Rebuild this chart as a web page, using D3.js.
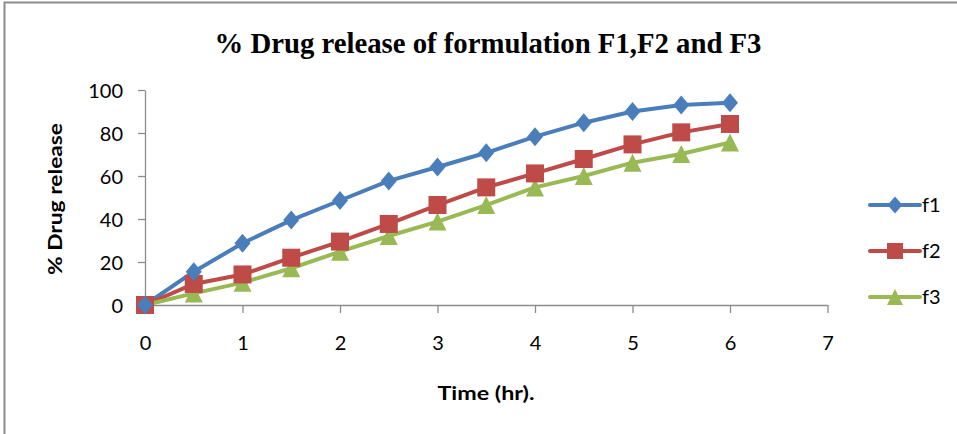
<!DOCTYPE html>
<html><head><meta charset="utf-8">
<script src="https://cdn.jsdelivr.net/npm/d3@7"></script>
<style>body{margin:0;background:#fff}svg{display:block}</style>
</head><body>
<svg id="c" width="957" height="434"></svg>
<script>
const times = [0,0.5,1,1.5,2,2.5,3,3.5,4,4.5,5,5.5,6];
const f1 = [0,15.5,28.7,39.5,48.6,57.7,64.2,70.8,78.3,84.8,90,93,94.1];
const f2 = [0,9.8,14.2,22,29.5,37.7,46.5,54.7,61.2,67.9,74.7,80.3,84.2];
const f3 = [0,5.4,10.4,17.1,24.8,32.1,38.8,46.5,54.7,60,66.2,70.2,75.6];
const seriesNames = ["f1","f2","f3"];
const xTicks = [0,1,2,3,4,5,6,7];
const yTicks = [0,20,40,60,80,100];
const title = "% Drug release of formulation F1,F2 and F3";
const xLabel = "Time (hr).";
const yLabel = "% Drug release";

const colors = ["#4a7ebb","#be4b48","#98b954"];
const markerPath = [
  "M0,-9.5L8,0L0,9.5L-8,0Z",
  "M-9,-9H9V9H-9Z",
  "M0,-9L9,9H-9Z"
];
const legendMarker = [
  "M0,-8.5L7.5,0L0,8.5L-7.5,0Z",
  "M-8,-8H8V8H-8Z",
  "M0,-8L8,8H-8Z"
];
const svg = d3.select("#c");
const sans = "Lato, 'Open Sans', sans-serif";

svg.append("path").attr("d","M4.5,434 V2.5 H957").attr("fill","none").attr("stroke","#8c8c8c").attr("stroke-width",2);

const x = d3.scaleLinear().domain([0,7]).range([145,827.5]);
const y = d3.scaleLinear().domain([0,100]).range([305,90]);

const gx = svg.append("g").attr("transform","translate(0,305)")
  .call(d3.axisBottom(x).tickValues(xTicks).tickSize(8).tickSizeOuter(0).tickFormat(d3.format("d")));
const gy = svg.append("g").attr("transform","translate(145,0)")
  .call(d3.axisLeft(y).tickValues(yTicks).tickSize(7).tickSizeOuter(0).tickFormat(d3.format("d")));
[gx,gy].forEach(g=>{
  g.select(".domain").attr("stroke","#8c8c8c").attr("stroke-width",1.3);
  g.selectAll(".tick line").attr("stroke","#8c8c8c").attr("stroke-width",1.3);
  g.selectAll(".tick text").attr("fill","#000").style("font-family",sans).style("font-size","20px");
});
gx.selectAll(".tick text").attr("y",40).attr("dy",null).attr("dominant-baseline","middle");
gy.selectAll(".tick text").attr("x",-22).attr("dy","0.35em");

const data = [f1,f2,f3];
const line = d3.line().x((d,i)=>x(times[i])).y(d=>y(d));
data.forEach((s,k)=>{
  svg.append("path").datum(s).attr("d",line).attr("fill","none")
    .attr("stroke",colors[k]).attr("stroke-width",4).attr("stroke-linejoin","round");
});
[2,1,0].forEach(k=>{
  svg.append("g").selectAll("path").data(data[k]).join("path")
    .attr("d",markerPath[k])
    .attr("transform",(d,i)=>`translate(${x(times[i])},${y(d)})`)
    .attr("fill",colors[k]);
});

const legY = [205,251,297];
seriesNames.forEach((n,k)=>{
  const g = svg.append("g").attr("transform",`translate(870,${legY[k]})`);
  g.append("line").attr("x1",0).attr("x2",50).attr("stroke",colors[k]).attr("stroke-width",4).attr("stroke-linecap","round");
  g.append("path").attr("d",legendMarker[k]).attr("transform","translate(25,0)").attr("fill",colors[k]);
  g.append("text").attr("x",52).attr("dy","0.35em").text(n)
    .style("font-family",sans).style("font-size","20px");
});

svg.append("text").attr("x",488).attr("y",53).attr("text-anchor","middle")
  .attr("textLength",547).attr("lengthAdjust","spacingAndGlyphs")
  .style("font-family","'Liberation Serif', serif").style("font-weight","bold").style("font-size","30px").text(title);
svg.append("text").attr("x",486).attr("y",400).attr("text-anchor","middle")
  .attr("textLength",97).attr("lengthAdjust","spacingAndGlyphs")
  .style("font-family",sans).style("font-weight","bold").style("font-size","19px").text(xLabel);
svg.append("text").attr("transform","translate(62,199) rotate(-90)").attr("text-anchor","middle")
  .attr("textLength",152).attr("lengthAdjust","spacingAndGlyphs")
  .style("font-family",sans).style("font-weight","bold").style("font-size","19px").text(yLabel);
</script>
</body></html>
